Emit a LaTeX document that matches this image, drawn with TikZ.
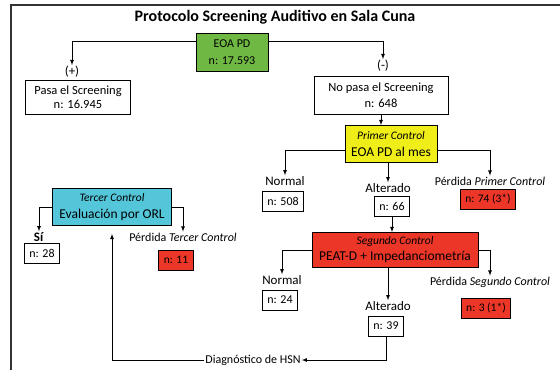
\documentclass[tikz,border=0pt]{standalone}
\usepackage{fontspec}
\setmainfont{Carlito}
\usetikzlibrary{arrows}
\definecolor{boxgreen}{RGB}{112,184,68}
\definecolor{boxyellow}{RGB}{240,238,24}
\definecolor{boxred}{RGB}{236,54,40}
\definecolor{boxcyan}{RGB}{84,198,218}
\tikzstyle{stepbox}=[draw,thick,align=center,inner sep=0pt,font=\fontsize{12.5}{16}\selectfont]
\tikzstyle{controlbox}=[draw,thick,align=center,inner sep=0pt,font=\fontsize{13.5}{17}\selectfont]
\tikzstyle{countbox}=[draw,thick,inner xsep=5pt,inner ysep=0pt,minimum height=20pt,font=\fontsize{12}{13}\selectfont]
\tikzstyle{losscount}=[countbox,fill=boxred,font=\fontsize{11.5}{12}\selectfont]
\tikzstyle{tag}=[inner sep=1pt,font=\fontsize{13}{15}\selectfont]
\tikzstyle{losstag}=[inner sep=1pt,font=\fontsize{12}{14}\selectfont]
\tikzstyle{edge}=[draw,thick,->,>=latex]
\newcommand{\ctl}[1]{{\fontsize{11.5}{13}\selectfont\itshape #1}}

\begin{document}
\begin{tikzpicture}[x=1pt,y=-1pt]
    \useasboundingbox (0,0) rectangle (560,370);
    % Frame and title
    \draw[line width=2pt,black!80] (11,370) -- (11,5) -- (560,5);
    \node[font=\fontsize{16}{18}\selectfont\bfseries] (title) at (275,17) {Protocolo Screening Auditivo en Sala Cuna};
    % First the screening boxes
    \node[stepbox,fill=boxgreen,minimum width=72pt,minimum height=38pt,font=\fontsize{12}{17}\selectfont] (eoa) at (232,52) {EOA PD\\n: 17.593};
    \node[stepbox,minimum width=105pt,minimum height=34pt,font=\fontsize{12.5}{14.5}\selectfont] (pasa) at (78,97) {Pasa el Screening\\n: 16.945};
    \node[stepbox,minimum width=134pt,minimum height=38pt] (nopasa) at (381,95) {No pasa el Screening\\n: 648};
    \node[controlbox,fill=boxyellow,minimum width=92pt,minimum height=37pt] (primer) at (391,144) {\ctl{Primer Control}\\EOA PD al mes};
    \node[controlbox,fill=boxred,minimum width=166pt,minimum height=35pt,font=\fontsize{13.5}{16}\selectfont] (segundo) at (395,250) {\ctl{Segundo Control}\\PEAT-D + Impedanciometría};
    \node[controlbox,fill=boxcyan,minimum width=119pt,minimum height=37pt] (tercer) at (112,207) {\ctl{Tercer Control}\\Evaluación por ORL};
    % Labels over the results
    \node[losstag,font=\fontsize{13}{15}\selectfont] (plus) at (72,72) {(+)};
    \node[losstag,font=\fontsize{13}{15}\selectfont] (minus) at (383,66) {(-)};
    \foreach \pos/\name/\txt in {{(285,181)/normal1/Normal}, {(388,188)/alter1/Alterado},
                                 {(282,280)/normal2/Normal}, {(388,306)/alter2/Alterado},
                                 {(39,237)/si/\textbf{Sí}}}
        \node[tag] (\name) at \pos {\txt};
    \foreach \pos/\name/\txt in {{(490,181)/perd1/Primer Control}, {(490,282)/perd2/Segundo Control},
                                 {(183,237)/perd3/Tercer Control}}
        \node[losstag] (\name) at \pos {Pérdida \textit{\txt}};
    % Counts
    \foreach \pos/\name/\num in {{(283,201)/n508/508}, {(392,206)/n66/66}, {(280,300)/n24/24},
                                 {(386,326)/n39/39}, {(42,253)/n28/28}}
        \node[countbox] (\name) at \pos {n: \num};
    \foreach \pos/\name/\num in {{(488,199)/n74/74 (3*)}, {(486,308)/n3/3 (1*)}, {(176,260)/n11/11}}
        \node[losscount] (\name) at \pos {n: \num};
    \node[losstag] (hsn) at (253,360) {Diagnóstico de HSN};
    % Connect the boxes
    \draw[edge] ([yshift=11pt]eoa.west) -| (plus.north);
    \draw[edge] ([yshift=11pt]eoa.east) -| (minus.north);
    \draw[edge] (nopasa.south) -- (nopasa.south|-primer.north);
    \draw[edge] ([yshift=-6pt]primer.west) -| (normal1.north);
    \draw[edge] (alter1.north|-primer.south) -- (alter1.north);
    \draw[edge] ([yshift=-6pt]primer.east) -| (perd1.north);
    \draw[edge] (n66.south) -- (n66.south|-segundo.north);
    \draw[edge] (segundo.west) -| (normal2.north);
    \draw[edge] (alter2.north|-segundo.south) -- (alter2.north);
    \draw[edge] (segundo.east) -| (perd2.north);
    \draw[edge] (n39.south) |- (hsn.east);
    \draw[edge] (hsn.west) -| ([yshift=-8pt]tercer.south);
    \draw[edge] (tercer.west) -| (si.north);
    \draw[edge] (tercer.east) -| (perd3.north);
\end{tikzpicture}
\end{document}
